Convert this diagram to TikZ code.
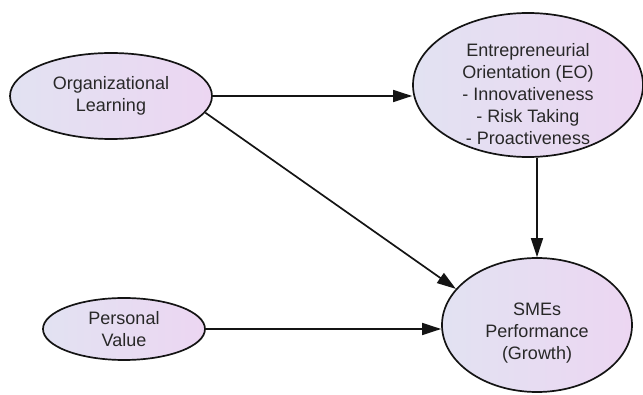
\documentclass[tikz,border=0pt]{standalone}
\usepackage{fontspec}
\setmainfont{Liberation Sans}
\usetikzlibrary{arrows.meta,shapes.geometric}
\definecolor{NodeText}{RGB}{40,40,40}
\definecolor{FillLeft}{RGB}{226,226,242}
\definecolor{FillRight}{RGB}{236,214,242}
\definecolor{EdgeBlack}{RGB}{20,20,20}

\begin{document}
\begin{tikzpicture}[
        x=1pt,y=-1pt,
        every node/.style={font=\fontsize{18}{22}\selectfont,text=NodeText,align=center},
        cNode/.style={ellipse,draw=EdgeBlack,line width=1.7pt,left color=FillLeft,right color=FillRight,inner xsep=0pt,inner ysep=-16pt},
        cEdge/.style={draw=EdgeBlack,line width=1.7pt,-{Triangle[length=19pt,width=12pt]}}]
        \useasboundingbox (0,0) rectangle (643,395);
        \node[cNode,minimum width=202pt,minimum height=86pt] (orgl) at (111,96) {Organizational\\Learning};
        \node[cNode,minimum width=162pt,minimum height=62pt] (pval) at (124,329) {Personal\\Value};
        \node[cNode,minimum width=230pt,minimum height=144pt] (eo) at (528,85) {\rule{0pt}{32pt}Entrepreneurial\\Orientation (EO)\\- Innovativeness\\- Risk Taking\\- Proactiveness};
        \node[cNode,minimum width=190pt,minimum height=134pt] (sme) at (537,325) {\rule{0pt}{28pt}SMEs\\Performance\\(Growth)};
        \draw[cEdge] (orgl.east) -- (orgl.east -| eo.west);
        \draw[cEdge] (orgl.-10) -- (sme.156);
        \draw[cEdge] (pval.east) -- (pval.east -| sme.west);
        \draw[cEdge] (eo.south -| sme.north) -- (sme.north);
      \end{tikzpicture}
\end{document}
